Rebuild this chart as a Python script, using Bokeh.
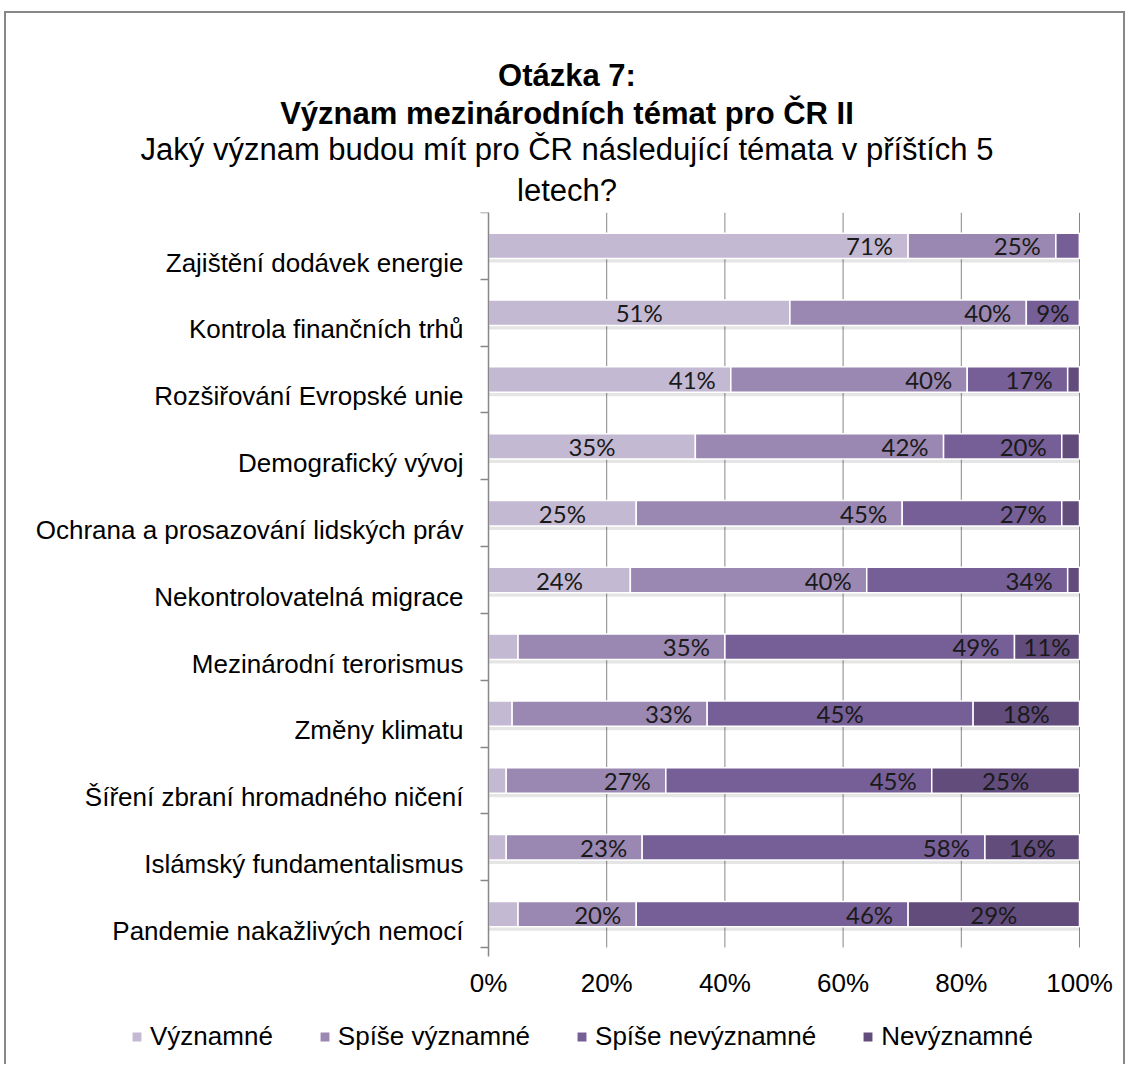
from bokeh.plotting import figure
from bokeh.models import (Range1d, FixedTicker, PrintfTickFormatter, Legend, LegendItem,
                          Title, ColumnDataSource)
from bokeh.core.properties import value
from bokeh.embed import file_html
from bokeh.resources import INLINE

# ---------------- data ----------------
categories = ["Zajištění dodávek energie", "Kontrola finančních trhů", "Rozšiřování Evropské unie",
              "Demografický vývoj", "Ochrana a prosazování lidských práv", "Nekontrolovatelná migrace",
              "Mezinárodní terorismus", "Změny klimatu", "Šíření zbraní hromadného ničení",
              "Islámský fundamentalismus", "Pandemie nakažlivých nemocí"]
series_names = ["Významné", "Spíše významné", "Spíše nevýznamné", "Nevýznamné"]
vyznamne = [71, 51, 41, 35, 25, 24, 5, 4, 3, 3, 5]
spise_vyznamne = [25, 40, 40, 42, 45, 40, 35, 33, 27, 23, 20]
spise_nevyznamne = [4, 9, 17, 20, 27, 34, 49, 45, 45, 58, 46]
nevyznamne = [0, 0, 2, 3, 3, 2, 11, 18, 25, 16, 29]
x_ticks = [0, 20, 40, 60, 80, 100]

# ---------------- styles / layout (pixels) ----------------
colors = ["#c4b9d3", "#9b88b2", "#765e96", "#624c7c"]
# labels centred in their segment (row, series); all other labels sit at the inside end
centered_labels = {(1, 0), (3, 0), (4, 0), (5, 0), (1, 2), (7, 2),
                   (6, 3), (7, 3), (8, 3), (9, 3), (10, 3)}
GRAY = "#878787"
SANS = "Liberation Sans"
W, H = 1121, 1053              # canvas size (placed at page x=6, y=13)
FRAME_L, FRAME_R = 6, 1127     # page x of frame edges
AX_L, AX_R = 488, 1079         # page x of 0 % and 100 %
ROWS_T, ROWS_B = 212, 947      # page y of top and bottom of the category area
FRAME_B = 13 + H

values = [vyznamne, spise_vyznamne, spise_nevyznamne, nevyznamne]
n = len(categories)
centers = [n - 0.5 - i for i in range(n)]

px_per_x = (AX_R - AX_L) / 100
px_per_y = (ROWS_B - ROWS_T) / n
x_range = Range1d(-(AX_L - FRAME_L) / px_per_x, 100 + (FRAME_R - AX_R) / px_per_x)
y_range = Range1d(-(FRAME_B - ROWS_B) / px_per_y, n)

p = figure(width=W, height=H, output_backend="svg", toolbar_location=None,
           x_range=x_range, y_range=y_range,
           min_border_left=0, min_border_right=0, min_border_top=ROWS_T - 13, min_border_bottom=0)
p.styles = {"margin-left": "4px", "margin-top": "11px",
            "border-top": f"2px solid {GRAY}", "border-left": f"2px solid {GRAY}",
            "border-right": f"2px solid {GRAY}"}
p.outline_line_color = None
p.background_fill_color = "white"
p.border_fill_color = "white"
p.xgrid.visible = False
p.ygrid.visible = False

# vertical grid lines over the category area
p.segment(x0=x_ticks, x1=x_ticks, y0=[0] * len(x_ticks), y1=[n] * len(x_ticks),
          line_color=GRAY, line_width=1)

# shadow under each bar
p.hbar(y=[c - 0.06 for c in centers], left=0, right=100, height=0.38,
       fill_color="black", fill_alpha=0.10, line_color=None)

# stacked bars
renderers = []
lefts = [0.0] * n
lab_c = dict(x=[], y=[], t=[])
lab_e = dict(x=[], y=[], t=[])
for j, vals in enumerate(values):
    rights = [l + v for l, v in zip(lefts, vals)]
    src = ColumnDataSource(dict(y=centers, left=lefts, right=rights))
    r = p.hbar(y="y", left="left", right="right", height=0.38, source=src,
               fill_color=colors[j], line_color="white", line_width=1.5)
    renderers.append(r)
    for i in range(n):
        v = vals[i]
        if v >= 6:
            if (i, j) in centered_labels:
                lab_c["x"].append((lefts[i] + rights[i]) / 2)
                lab_c["y"].append(centers[i]); lab_c["t"].append(f"{v}%")
            else:
                lab_e["x"].append(rights[i])
                lab_e["y"].append(centers[i]); lab_e["t"].append(f"{v}%")
    lefts = rights

p.text(x="x", y="y", text="t", source=ColumnDataSource(lab_c), text_align="center",
       text_baseline="middle", text_font=value("Lato"), text_font_size="24px", text_color="#1a1a1a")
p.text(x="x", y="y", text="t", source=ColumnDataSource(lab_e), text_align="right",
       text_baseline="middle", x_offset=-15, text_font=value("Lato"), text_font_size="24px",
       text_color="#1a1a1a")

# x axis, drawn at the bottom of the category area
xa = p.xaxis[0]
xa.fixed_location = 0
xa.bounds = (0, 100)
xa.ticker = FixedTicker(ticks=x_ticks)
xa.formatter = PrintfTickFormatter(format="%d%%")
xa.axis_line_color = None
xa.major_tick_line_color = None
xa.major_tick_out = 0
xa.major_tick_in = 0
xa.minor_tick_line_color = None
xa.major_label_text_font = SANS
xa.major_label_text_font_size = "26px"
xa.major_label_text_color = "black"
xa.major_label_standoff = 20

# y axis at x = 0: labels slightly below band centre, ticks at band boundaries
label_pos = [c - 0.25 for c in centers]
ya = p.yaxis[0]
ya.fixed_location = 0
ya.bounds = (-0.13, n)
ya.ticker = FixedTicker(ticks=label_pos, minor_ticks=list(range(n + 1)))
ya.major_label_overrides = {pos: cat for pos, cat in zip(label_pos, categories)}
ya.major_tick_line_color = None
ya.major_tick_out = 0
ya.major_tick_in = 0
ya.minor_tick_out = 8
ya.minor_tick_in = 0
ya.minor_tick_line_color = GRAY
ya.minor_tick_line_width = 1.5
ya.axis_line_color = GRAY
ya.axis_line_width = 1.5
ya.major_label_text_font = SANS
ya.major_label_text_font_size = "26px"
ya.major_label_text_color = "black"
ya.major_label_standoff = 17

# titles, nearest the plot first
title_lines = [("letech?", "normal", 10),
               ("Jaký význam budou mít pro ČR následující témata v příštích 5", "normal", -3),
               ("Význam mezinárodních témat pro ČR II", "bold", 2),
               ("Otázka 7:", "bold", 0)]
for txt, style, so in title_lines:
    p.add_layout(Title(text=txt, align="center", standoff=so, text_font=SANS,
                       text_font_size="31px", text_font_style=style, text_color="black"), "above")

legend = Legend(items=[LegendItem(label=s, renderers=[r]) for s, r in zip(series_names, renderers)],
                orientation="horizontal", location=(124, 14), glyph_width=13, glyph_height=13,
                label_standoff=7, spacing=45, padding=0, margin=0,
                label_text_font=SANS, label_text_font_size="26px", label_text_color="black",
                border_line_color=None, background_fill_alpha=0)
p.add_layout(legend, "center")

open("out.html", "w").write(file_html(p, INLINE))
